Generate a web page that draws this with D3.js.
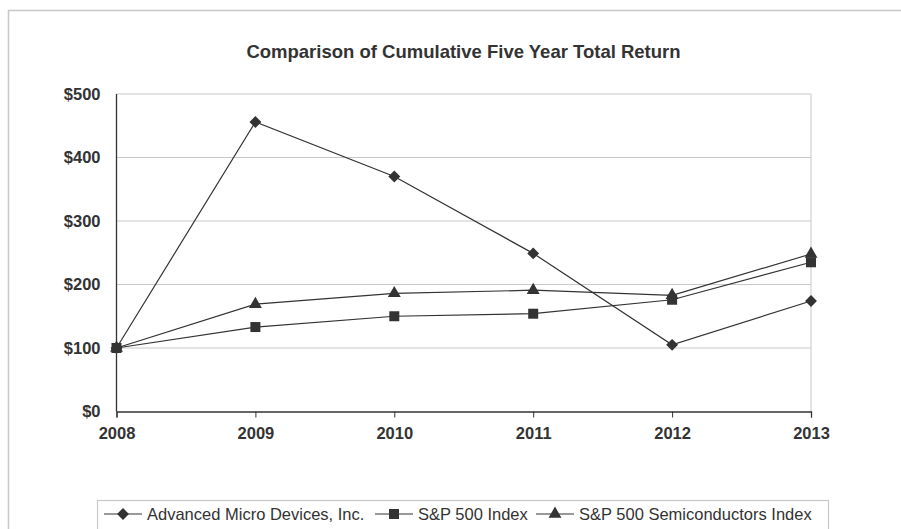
<!DOCTYPE html>
<html>
<head>
<meta charset="utf-8">
<script src="https://cdn.jsdelivr.net/npm/d3@7"></script>
<style>
  body { margin: 0; background: #fff; }
  svg { display: block; font-family: Arial, "Liberation Sans", sans-serif; }
</style>
</head>
<body>
<svg id="chart" width="901" height="529"></svg>
<script>
// データ
const years = [2008, 2009, 2010, 2011, 2012, 2013];
const amd = [100, 456, 370, 249, 105, 174];
const sp500 = [100, 133, 150, 154, 176, 235];
const semis = [100, 169, 186, 191, 183, 248];
const seriesNames = ["Advanced Micro Devices, Inc.", "S&P 500 Index", "S&P 500 Semiconductors Index"];
const yTicks = [0, 100, 200, 300, 400, 500];

const svg = d3.select("#chart");
const ink = "#333";

// 外枠
svg.append("path")
  .attr("d", "M8.5,529 V10.5 H901")
  .attr("fill", "none")
  .attr("stroke", "#c8c8c8")
  .attr("stroke-width", 1.5);

const x = d3.scalePoint().domain(years).range([116.5, 811]);
const y = d3.scaleLinear().domain([0, 500]).range([411.5, 94]);

svg.append("text")
  .attr("x", (116 + 811) / 2)
  .attr("y", 58)
  .attr("text-anchor", "middle")
  .attr("font-size", 18.5)
  .attr("font-weight", "bold")
  .attr("fill", ink)
  .text("Comparison of Cumulative Five Year Total Return");

// グリッド
svg.append("g")
  .selectAll("line")
  .data(yTicks.slice(1))
  .join("line")
  .attr("x1", x(2008))
  .attr("x2", x(2013))
  .attr("y1", (d) => y(d))
  .attr("y2", (d) => y(d))
  .attr("stroke", "#c8c8c8");

svg.append("line")
  .attr("x1", x(2013)).attr("x2", x(2013))
  .attr("y1", y(500)).attr("y2", y(0))
  .attr("stroke", "#c8c8c8");

// 軸
const yAxis = svg.append("g")
  .attr("transform", `translate(${x(2008)},0)`)
  .call(d3.axisLeft(y).tickValues(yTicks).tickSize(0).tickPadding(16).tickFormat((d) => "$" + d));
const xAxis = svg.append("g")
  .attr("transform", `translate(0,${y(0)})`)
  .call(d3.axisBottom(x).tickSize(6).tickPadding(10).tickFormat(d3.format("d")));

[yAxis, xAxis].forEach((g) => {
  g.attr("font-size", 16.5).attr("font-family", "Arial, 'Liberation Sans', sans-serif");
  g.select(".domain").attr("stroke", ink).attr("stroke-width", 1.3);
  g.selectAll(".tick line").attr("stroke", ink);
  g.selectAll("text")
    .attr("fill", ink)
    .attr("font-weight", "bold");
});
yAxis.select(".domain").attr("d", `M0,${y(0)}V${y(500)}`);

// 系列
const series = [
  { name: seriesNames[0], values: amd, symbol: d3.symbolDiamond2, size: 90 },
  { name: seriesNames[1], values: sp500, symbol: d3.symbolSquare, size: 100 },
  { name: seriesNames[2], values: semis, symbol: d3.symbolTriangle, size: 72 },
];

const line = d3.line().x((d, i) => x(years[i])).y((d) => y(d));

series.forEach((s) => {
  svg.append("path")
    .attr("d", line(s.values))
    .attr("fill", "none")
    .attr("stroke", ink)
    .attr("stroke-width", 1.2);
  svg.append("g")
    .selectAll("path")
    .data(s.values)
    .join("path")
    .attr("transform", (d, i) => `translate(${x(years[i])},${y(d)})`)
    .attr("d", d3.symbol().type(s.symbol).size(s.size))
    .attr("fill", ink);
});

// 凡例
svg.append("rect")
  .attr("x", 97.5).attr("y", 500.5)
  .attr("width", 731).attr("height", 40)
  .attr("fill", "#fff")
  .attr("stroke", "#c8c8c8")
  .attr("stroke-width", 1.2);

const legendX = [104, 375, 536];
series.forEach((s, i) => {
  const g = svg.append("g").attr("transform", `translate(${legendX[i]},514)`);
  g.append("line").attr("x1", 0).attr("x2", 38).attr("stroke", ink).attr("stroke-width", 1.2);
  g.append("path")
    .attr("transform", "translate(19,0)")
    .attr("d", d3.symbol().type(s.symbol).size(s.size))
    .attr("fill", ink);
  g.append("text")
    .attr("x", 43)
    .attr("y", 6)
    .attr("font-size", 16.5)
    .attr("fill", ink)
    .text(s.name);
});
</script>
</body>
</html>
